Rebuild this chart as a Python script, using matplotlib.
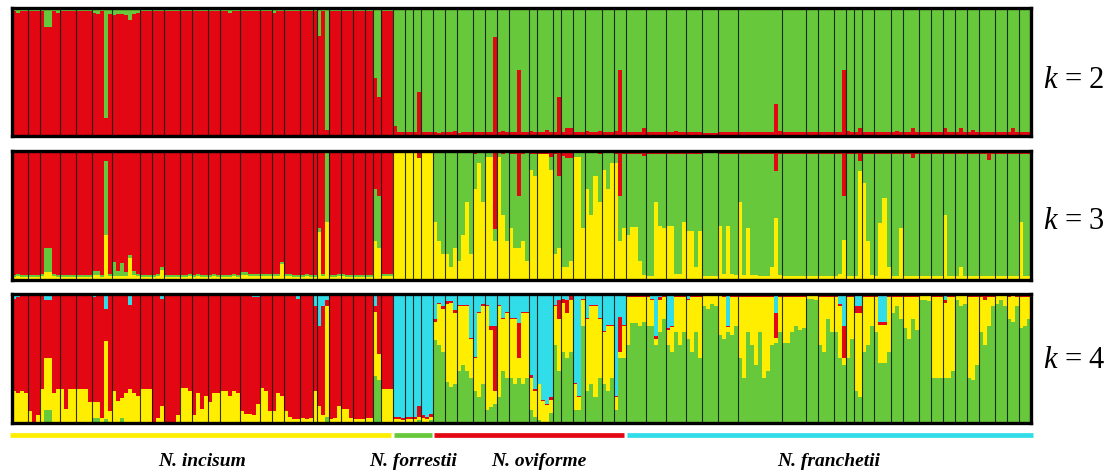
import numpy as np
import matplotlib
matplotlib.use("Agg")
import matplotlib.pyplot as plt
from matplotlib.transforms import blended_transform_factory

plt.rcParams['mathtext.fontset'] = 'custom'
plt.rcParams['mathtext.it'] = 'Liberation Serif:italic'
plt.rcParams['mathtext.rm'] = 'Liberation Serif'

# ---------------- data ----------------
species = ["N. incisum", "N. forrestii", "N. oviforme", "N. franchetii"]
species_npops = [27, 4, 15, 26]
pop_sizes = [4, 3, 5, 4, 4, 5, 7, 3, 3, 4, 3, 4, 3, 5, 5, 3, 3, 4, 3, 1, 3, 3, 3, 3, 2, 2, 3,
             3, 2, 2, 3,
             3, 3, 4, 3, 3, 3, 5, 2, 4, 2, 3, 3, 4, 3, 3,
             5, 5, 5, 4, 4, 5, 11, 6, 3, 4, 3, 2, 2, 3, 4, 3, 4, 3, 3, 3, 3, 3, 4, 3, 3, 3]
k_labels = ["k = 2", "k = 3", "k = 4"]

# k = 2 : red share (%), green is the rest
k2_red = [97, 96, 97, 97, 97, 97, 97, 97, 85, 85, 97, 96, 97, 97, 97, 97, 97, 97, 97, 97,
          96, 95, 97, 14, 95, 94, 95, 95, 94, 90, 95, 96, 97, 97, 97, 97, 97, 97, 97, 97, 97, 97,
          97, 97, 97, 97, 97, 97, 97, 97, 97, 97, 97, 97, 96, 97, 97, 97, 97, 97, 97, 97,
          97, 97, 97, 96, 97, 97, 97, 97, 97, 97, 97, 97, 97, 97, 78, 97, 5, 97, 97, 97,
          97, 97, 97, 97, 97, 97, 97, 97, 45, 30, 97, 97, 97,
          8, 3, 3, 3, 3, 3, 34, 3, 3, 3,
          3, 2, 3, 3, 3, 4, 2, 3, 3, 3, 3, 3, 3, 3, 3, 77, 3, 4, 3, 3, 3, 51, 3, 3, 4, 3,
          3, 3, 5, 3, 3, 30, 3, 6, 6, 3, 3, 3, 4, 3, 3, 4, 3, 3, 3, 4, 51, 3,
          3, 3, 3, 3, 6, 3, 3, 3, 3, 3, 3, 3, 4, 3, 3, 3, 3, 3, 3, 2, 2, 2, 2, 3, 3, 3, 3, 3,
          3, 3, 3, 3, 3, 3, 3, 3, 3, 25, 4, 3, 3, 3, 3, 3, 3, 3, 3, 3, 3, 3, 3, 3, 3, 3, 51,
          4, 3, 3, 6, 3, 3, 3, 3, 3, 3, 3, 3, 4, 3, 3, 3, 6, 3, 3, 3, 3, 3, 3, 3, 6, 3, 3,
          3, 6, 3, 3, 5, 3, 3, 3, 3, 3, 3, 3, 3, 3, 6, 3, 3, 3, 3]

# k = 3 : yellow (bottom) and red (top) shares (%), green is the rest
k3_yellow = [2, 3, 2, 2, 2, 2, 2, 3, 6, 6, 3, 2, 2, 2, 2, 2, 2, 2, 2, 2,
             4, 4, 2, 35, 3, 3, 3, 3, 3, 17, 4, 3, 2, 2, 2, 2, 3, 8, 2, 2, 2, 2,
             2, 2, 3, 2, 3, 2, 2, 2, 3, 2, 2, 2, 2, 3, 2, 4, 4, 3, 3, 3,
             3, 3, 3, 3, 3, 12, 3, 3, 2, 2, 2, 3, 2, 2, 37, 3, 45, 2, 2, 3,
             3, 2, 2, 2, 2, 2, 2, 2, 30, 25, 3, 3, 3,
             100, 100, 100, 100, 100, 100, 94, 100, 100, 100,
             45, 30, 20, 20, 10, 25, 15, 35, 60, 20, 70, 90, 60, 95, 95, 30, 95, 50, 30,
             40, 25, 25, 30, 15, 85, 80, 97, 97, 97, 85, 20, 25, 10, 10, 15, 95, 95, 40,
             70, 50, 80, 60, 85, 70, 90, 90, 30, 40,
             35, 41, 41, 15, 4, 3, 3, 60, 42, 40, 42, 42, 5, 5, 45, 38, 38, 10, 38, 3, 3, 3, 3,
             42, 5, 42, 5, 4, 60, 4, 40, 4, 4, 3, 3, 3, 10, 48, 4, 3, 3, 3, 3, 3, 3,
             3, 3, 3, 3, 3, 3, 3, 3, 5, 31, 3, 3, 3, 84, 75, 30, 4, 3, 44, 63, 10, 3, 3, 40,
             3, 3, 3, 3, 3, 3, 3, 3, 3, 3, 50, 3, 3, 3, 10, 3, 3, 3, 3, 3, 3, 3, 3, 3, 3, 3,
             3, 3, 3, 45, 3, 3]
k3_red = [96, 95, 96, 96, 96, 96, 96, 95, 75, 75, 95, 96, 96, 96, 96, 96, 96, 96, 96, 96,
          93, 93, 96, 8, 95, 86, 93, 87, 94, 81, 93, 95, 96, 96, 96, 96, 95, 90, 96, 96, 96, 96,
          96, 96, 95, 96, 95, 96, 96, 96, 95, 96, 96, 96, 96, 95, 96, 94, 94, 95, 95, 95,
          95, 95, 95, 95, 95, 86, 95, 95, 96, 96, 96, 95, 96, 96, 60, 95, 0, 96, 96, 95,
          95, 96, 96, 96, 96, 96, 96, 96, 30, 35, 95, 95, 95,
          0, 0, 0, 0, 0, 0, 6, 0, 0, 0,
          2, 2, 2, 2, 2, 2, 2, 2, 2, 2, 3, 2, 2, 2, 2, 61, 2, 3, 2,
          3, 3, 35, 3, 2, 3, 3, 3, 3, 3, 5, 3, 20, 4, 6, 6, 2, 2, 2,
          2, 2, 2, 3, 2, 2, 2, 3, 35, 3,
          3, 3, 3, 3, 4, 3, 3, 3, 3, 3, 3, 3, 3, 3, 3, 3, 3, 3, 3, 2, 2, 2, 2,
          3, 3, 3, 3, 3, 3, 3, 3, 3, 3, 3, 3, 3, 3, 16, 3, 3, 3, 3, 3, 3, 3,
          3, 3, 3, 3, 3, 3, 3, 3, 3, 35, 3, 3, 3, 8, 3, 3, 3, 3, 3, 3, 3, 3, 3, 3,
          3, 3, 6, 3, 3, 3, 3, 3, 3, 3, 3, 3, 3, 3, 3, 3, 3, 3, 3, 3, 3, 7, 3, 3, 3, 3,
          3, 3, 3, 3, 3, 3]

# k = 4 : green (bottom), yellow, cyan (top) shares (%), red is the rest
k4_green = [1, 1, 1, 1, 1, 1, 1, 1, 10, 10, 1, 1, 1, 1, 1, 1, 1, 1, 1, 1,
            4, 4, 1, 3, 1, 1, 1, 4, 1, 1, 1, 1, 1, 1, 1, 1, 1, 1, 1, 1, 1, 1,
            1, 1, 1, 1, 1, 1, 1, 1, 1, 1, 1, 1, 1, 1, 1, 1, 1, 1, 1, 1,
            1, 1, 1, 1, 1, 1, 1, 1, 1, 1, 1, 1, 1, 1, 1, 1, 5, 1, 1, 1,
            1, 1, 1, 1, 1, 1, 1, 1, 36, 33, 1, 1, 1,
            1, 1, 1, 1, 1, 1, 2, 1, 1, 2,
            64, 60, 55, 32, 28, 30, 40, 45, 40, 35, 25, 20, 30, 10, 12, 15, 20, 40, 35,
            35, 30, 35, 30, 35, 10, 5, 2, 1, 1, 8, 60, 40, 55, 50, 55, 10, 10, 75,
            25, 30, 20, 35, 30, 25, 35, 10, 50, 50,
            60, 77, 77, 75, 78, 75, 75, 60, 70, 80, 60, 55, 70, 60, 70, 65, 55, 70, 50,
            90, 88, 92, 90, 68, 65, 70, 68, 75,
            50, 35, 70, 60, 45, 70, 35, 40, 60, 62, 70, 62, 62, 70, 75, 72, 73, 96, 96, 95,
            60, 55, 80, 70, 70, 50, 45, 50, 65, 25, 20, 55, 60, 75, 70, 46, 46, 55, 85, 90, 80,
            73, 65, 80, 72, 95, 95, 94, 35, 35, 35, 35, 35, 40, 95, 90, 92, 35, 33, 45,
            70, 60, 75, 90, 92, 95, 90, 80, 78, 90, 73, 75, 80]
k4_yellow = [24, 22, 24, 22, 8, 0, 5, 25, 40, 40, 22, 25, 25, 10, 25, 25, 25, 25, 25, 15,
             12, 12, 3, 60, 8, 24, 16, 15, 22, 25, 22, 20, 25, 25, 25, 0, 3, 12, 0, 0, 0, 5,
             26, 26, 24, 5, 22, 10, 20, 15, 22, 22, 24, 24, 20, 24, 22, 8, 6, 6, 5, 14,
             26, 24, 8, 8, 22, 20, 8, 4, 2, 2, 3, 2, 3, 24, 12, 5, 85, 2, 3, 12,
             10, 10, 3, 2, 2, 2, 3, 3, 50, 20, 25, 25, 25,
             2, 2, 1, 2, 2, 2, 3, 3, 2, 3,
             14, 32, 33, 60, 65, 55, 50, 45, 50, 30, 25, 65, 60, 80, 60, 10, 70, 40, 50,
             45, 50, 15, 55, 50, 25, 20, 28, 16, 13, 10, 30, 40, 38, 35, 40, 20, 10, 20,
             55, 60, 70, 45, 40, 50, 40, 10, 5, 25,
             37, 20, 20, 22, 19, 22, 20, 5, 25, 17, 12, 19, 27, 37, 27, 30, 42, 27, 47,
             8, 10, 6, 8, 30, 32, 4, 29, 22,
             47, 62, 27, 37, 52, 27, 62, 57, 37, 4, 27, 35, 35, 27, 22, 25, 24, 2, 2, 3,
             37, 42, 17, 27, 27, 40, 5, 47, 32, 60, 65, 42, 37, 22, 27, 30, 30, 42, 12, 7, 17,
             24, 32, 17, 25, 3, 3, 4, 62, 62, 62, 58, 62, 57, 3, 8, 6, 62, 64, 52,
             27, 35, 22, 7, 6, 3, 8, 17, 20, 7, 24, 22, 17]
k4_cyan = [4, 3, 2, 2, 2, 2, 2, 2, 5, 5, 2, 2, 2, 2, 2, 2, 2, 2, 2, 2,
           3, 2, 2, 12, 2, 2, 2, 2, 2, 9, 2, 2, 2, 2, 2, 2, 2, 4, 2, 2, 2, 2,
           2, 2, 2, 2, 2, 2, 2, 2, 2, 2, 2, 2, 2, 2, 2, 2, 2, 2, 3, 3,
           2, 2, 2, 2, 2, 2, 2, 2, 2, 4, 2, 2, 2, 10, 25, 10, 5, 2, 2, 2,
           2, 2, 2, 2, 2, 2, 2, 2, 10, 0, 2, 2, 2,
           95, 95, 96, 95, 95, 95, 87, 94, 95, 93,
           20, 7, 10, 6, 6, 13, 9, 9, 9, 34, 49, 14, 8, 9, 25, 25, 9, 19, 14,
           19, 19, 23, 14, 14, 63, 74, 70, 82, 85, 80, 9, 5, 4, 5, 2, 69, 79, 4,
           19, 9, 9, 19, 29, 24, 24, 79, 18, 24,
           1, 1, 1, 1, 1, 1, 4, 33, 3, 1, 27, 25, 1, 1, 1, 4, 1, 1, 1,
           1, 1, 1, 1, 1, 1, 25, 1, 1,
           1, 1, 1, 1, 1, 1, 1, 1, 1, 15, 1, 1, 1, 1, 1, 1, 1, 1, 1, 1,
           1, 1, 1, 1, 1, 8, 25, 1, 1, 10, 10, 1, 1, 1, 1, 22, 22, 1, 1, 1, 1,
           1, 1, 1, 1, 1, 1, 1, 1, 1, 1, 5, 1, 1, 1, 1, 1, 1, 1, 1,
           1, 1, 1, 1, 1, 1, 1, 1, 1, 1, 1, 1, 1]

N = sum(pop_sizes)
for nm, arr in [("k2_red", k2_red), ("k3_yellow", k3_yellow), ("k3_red", k3_red),
                ("k4_green", k4_green), ("k4_yellow", k4_yellow), ("k4_cyan", k4_cyan)]:
    if len(arr) != N:
        raise SystemExit(f"{nm} has {len(arr)} values, expected {N}")

# ---------------- style ----------------
RED = '#E30613'
GREEN = '#66C83A'
YELLOW = '#FFEE00'
CYAN = '#30DDE8'
species_colors = [YELLOW, GREEN, RED, CYAN]

W, H = 1115, 477
fig = plt.figure(figsize=(W / 100, H / 100), dpi=100)


def rect(x0, y0, x1, y1):
    return [x0 / W, 1 - y1 / H, (x1 - x0) / W, (y1 - y0) / H]


XL, XR = 11.5, 1031.0
panel_y = [(8.5, 137.0), (151.5, 281.0), (294.5, 424.0)]
label_y = [80, 222, 360]

x = np.arange(N)
a = lambda v: np.asarray(v, float) / 100.0
k2r = a(k2_red)
k3y, k3r = a(k3_yellow), a(k3_red)
k3g = np.clip(1 - k3y - k3r, 0, None)
k4g, k4y, k4c = a(k4_green), a(k4_yellow), a(k4_cyan)
k4r = np.clip(1 - k4g - k4y - k4c, 0, None)

stacks = [
    [(k2r, RED), (1 - k2r, GREEN)],
    [(k3y, YELLOW), (k3g, GREEN), (k3r, RED)],
    [(k4g, GREEN), (k4y, YELLOW), (k4r, RED), (k4c, CYAN)],
]
bounds = np.cumsum(pop_sizes)[:-1]

for (y0, y1), stack, ly, lab in zip(panel_y, stacks, label_y, k_labels):
    ax = fig.add_axes(rect(XL, y0, XR, y1))
    bottom = np.zeros(N)
    for vals, col in stack:
        ax.bar(x, vals, bottom=bottom, width=1.0, align='edge', color=col,
               linewidth=0, antialiased=False)
        bottom = bottom + vals
    ax.vlines(bounds, 0, 1, colors='#111111', linewidth=0.8, alpha=0.85)
    ax.set_xlim(0, N)
    ax.set_ylim(0, 1)
    ax.set_xticks([])
    ax.set_yticks([])
    for s in ax.spines.values():
        s.set_linewidth(2.4)
        s.set_color('black')
        s.set_zorder(5)
    kk, num = lab.split(" = ")
    fig.text(1043 / W, 1 - ly / H, rf"${kk}$ = {num}", fontsize=22,
             family='Liberation Serif', ha='left', va='center')

# species bars and names
axl = fig.add_axes(rect(XL, 428, XR, 476))
axl.set_xlim(0, N)
axl.set_ylim(476, 428)
axl.axis('off')
pop_cum = np.concatenate([[0], np.cumsum(pop_sizes)])
sp_cum = np.concatenate([[0], np.cumsum(species_npops)])
label_nudge = [0, 0, 2.3, 0]
for i, (name, col) in enumerate(zip(species, species_colors)):
    s = pop_cum[sp_cum[i]]
    e = pop_cum[sp_cum[i + 1]]
    xs = s + 0.35 if i > 0 else -0.4
    xe = e - 0.35 if i < len(species) - 1 else N + 0.6
    axl.plot([xs, xe], [436, 436], color=col, linewidth=3.4,
             solid_capstyle='butt', clip_on=False)
    axl.text((s + e) / 2 + label_nudge[i], 462, name, ha='center', va='center',
             fontsize=14, family='Liberation Serif', fontweight='bold',
             fontstyle='italic', clip_on=False)

fig.savefig('out.png', dpi=100)
